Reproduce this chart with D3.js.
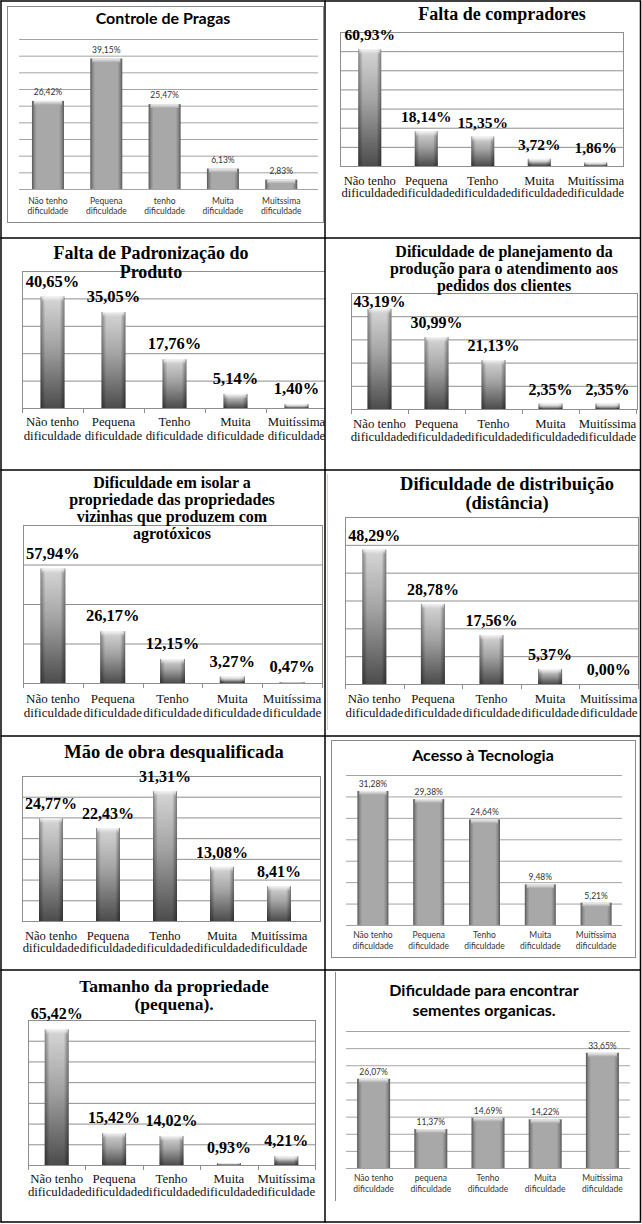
<!DOCTYPE html>
<html><head><meta charset="utf-8">
<script src="https://cdn.jsdelivr.net/npm/d3@7"></script>
<style>body{margin:0;background:#fff}svg{display:block}</style>
</head><body>
<svg id="c" width="642" height="1224"></svg>
<script>
// ---------- DATA ----------
const catsStd = [["Não tenho","dificuldade"],["Pequena","dificuldade"],["Tenho","dificuldade"],["Muita","dificuldade"],["Muitíssima","dificuldade"]];
const catsPragas = [["Não tenho","dificuldade"],["Pequena","dificuldade"],["tenho","dificuldade"],["Muita","dificuldade"],["Muitssima","dificuldade"]];
const catsSementes = [["Não tenho","dificuldade"],["pequena","dificuldade"],["Tenho","dificuldade"],["Muita","dificuldade"],["Muitíssima","dificuldade"]];

const titlePragas = ["Controle de Pragas"];
const titleCompradores = ["Falta de compradores"];
const titlePadronizacao = ["Falta de Padronização do","Produto"];
const titlePlanejamento = ["Dificuldade de planejamento da","produção para o atendimento aos","pedidos dos clientes"];
const titleIsolar = ["Dificuldade em isolar a","propriedade das propriedades","vizinhas que produzem com","agrotóxicos"];
const titleDistribuicao = ["Dificuldade de distribuição","(distância)"];
const titleMaoDeObra = ["Mão de obra desqualificada"];
const titleTecnologia = ["Acesso à Tecnologia"];
const titleTamanho = ["Tamanho da propriedade","(pequena)."];
const titleSementes = ["Dificuldade para encontrar","sementes organicas."];

const pragas = [26.42, 39.15, 25.47, 6.13, 2.83];
const compradores = [60.93, 18.14, 15.35, 3.72, 1.86];
const padronizacao = [40.65, 35.05, 17.76, 5.14, 1.40];
const planejamento = [43.19, 30.99, 21.13, 2.35, 2.35];
const isolar = [57.94, 26.17, 12.15, 3.27, 0.47];
const distribuicao = [48.29, 28.78, 17.56, 5.37, 0.00];
const maoDeObra = [24.77, 22.43, 31.31, 13.08, 8.41];
const tecnologia = [31.28, 29.38, 24.64, 9.48, 5.21];
const tamanho = [65.42, 15.42, 14.02, 0.93, 4.21];
const sementes = [26.07, 11.37, 14.69, 14.22, 33.65];

// axis maxima / gridline steps (percent)
const axisMax = {pragas:45, compradores:70, padronizacao:50, planejamento:50, isolar:80, distribuicao:60, maoDeObra:35, tecnologia:35, tamanho:70, sementes:40};
const axisStep = {pragas:5, compradores:10, padronizacao:10, planejamento:10, isolar:20, distribuicao:10, maoDeObra:5, tecnologia:5, tamanho:10, sementes:5};

// ---------- LAYOUT ----------
const panels = [
 {key:"pragas", title:titlePragas, values:pragas, cats:catsPragas, style:"sans",
  cell:[1,1,325,238], frame:[7,6,316,216], tSize:16, tX:163, tY:[24],
  plot:[19,318,39,189], band:[18.8,310.4], barW:32, vSize:8.5, vOff:6, cSize:8.5, cY:[204,214]},
 {key:"compradores", title:titleCompradores, values:compradores, cats:catsStd, style:"serif",
  cell:[325,1,640,238], tSize:18, tX:502, tY:[20],
  plot:[340,623,32,166], band:[341.5,624], barW:23, vSize:15.5, vOff:9, cSize:12.6, cY:[185,197], border:true, ticks:false},
 {key:"padronizacao", title:titlePadronizacao, values:padronizacao, cats:catsStd, style:"serif",
  cell:[1,238,325,470], tSize:18, tX:151, tY:[259,278],
  plot:[22,327,271,408], band:[22,327], barW:24, vSize:16.5, vOff:10, cSize:12.8, cY:[426,440], border:true, ticks:true},
 {key:"planejamento", title:titlePlanejamento, values:planejamento, cats:catsStd, style:"serif",
  cell:[325,238,640,470], tSize:16, tX:504, tY:[257,274,291],
  plot:[351,637,293,409], band:[351,636], barW:24, vSize:16, vOff:9, vMin:307, cSize:12.8, cY:[428,441], border:true, ticks:true},
 {key:"isolar", title:titleIsolar, values:isolar, cats:catsStd, style:"serif",
  cell:[1,470,325,736], tSize:16, tX:172, tY:[488,505,522,539],
  plot:[23,322,525,683], band:[23,322], barW:25, vSize:16.5, vOff:10, cSize:13, cY:[703,717], border:true, ticks:true},
 {key:"distribuicao", title:titleDistribuicao, values:distribuicao, cats:catsStd, style:"serif",
  cell:[325,470,640,736], tSize:18.5, tX:507, tY:[490,508.5], 
  plot:[345,638,517,684], band:[345,638], barW:24, vSize:16, vOff:9, cSize:12.8, cY:[703,717], border:true, ticks:true},
 {key:"maoDeObra", title:titleMaoDeObra, values:maoDeObra, cats:catsStd, style:"serif",
  cell:[1,736,325,970], tSize:18.5, tX:174, tY:[758],
  plot:[22,320,776,921], band:[22.5,307.5], barW:24, vSize:16, vOff:9, cSize:12.6, cY:[940,952], border:true, ticks:false},
 {key:"tecnologia", title:titleTecnologia, values:tecnologia, cats:catsStd, style:"sans",
  cell:[325,736,640,970], frame:[331,740,304,217], tSize:16, tX:483, tY:[761],
  plot:[346,622,775,925], band:[345,624], barW:31, vSize:8.5, vOff:4, cSize:8.5, cY:[938,949]},
 {key:"tamanho", title:titleTamanho, values:tamanho, cats:catsStd, style:"serif",
  cell:[1,970,325,1222], tSize:17.5, tX:174, tY:[992,1010],
  plot:[28,315,1020,1165], band:[28,315], barW:24, vSize:16, vOff:10, cSize:12.8, cY:[1183,1196], border:true, ticks:true},
 {key:"sementes", title:titleSementes, values:sementes, cats:catsSementes, style:"sans",
  cell:[325,970,640,1222], leftLine:[335,972,1201], tSize:16, tX:484, tY:[996,1016],
  plot:[346,630,1031,1168], band:[345,631], barW:33, vSize:8.5, vOff:4, cSize:8.5, cY:[1181,1192]}
];

const SERIF = "'Liberation Serif','Times New Roman',serif";
const SANS = "Lato,'Open Sans',sans-serif";
const fmt = d3.formatLocale({decimal:",", thousands:".", grouping:[3], currency:["",""]}).format(".2f");

const svg = d3.select("#c");
const defs = svg.append("defs");
function grad(id, x2, y2, stops){
  const g = defs.append("linearGradient").attr("id",id).attr("x1",0).attr("y1",0).attr("x2",x2).attr("y2",y2);
  stops.forEach(s=>g.append("stop").attr("offset",s[0]).attr("stop-color",s[1]).attr("stop-opacity",s[2]===undefined?1:s[2]));
}
grad("gSerif",0,1,[[0,"#d6d6d6"],[0.45,"#a2a2a2"],[1,"#4c4c4c"]]);
grad("gSerifEdge",1,0,[[0,"#000",0.38],[0.2,"#000",0],[0.8,"#000",0],[1,"#000",0.42]]);
grad("gSerifCap",0,1,[[0,"#f6f6f6"],[1,"#e0e0e0",0]]);
grad("gSans",1,0,[[0,"#555"],[0.07,"#888"],[0.15,"#a8a8a8"],[0.85,"#a8a8a8"],[0.93,"#888"],[1,"#555"]]);
grad("gSansCap",0,1,[[0,"#f0f0f0"],[1,"#a8a8a8"]]);

panels.forEach((p,pi)=>{
  const [cx0,cy0,cx1,cy1] = p.cell;
  defs.append("clipPath").attr("id","clip"+pi).append("rect")
    .attr("x",cx0).attr("y",cy0).attr("width",cx1-cx0).attr("height",cy1-cy0);
  const g = svg.append("g").attr("clip-path",`url(#clip${pi})`);
  const serif = p.style==="serif";
  const font = serif ? SERIF : SANS;
  const gridColor = serif ? "#8e8e8e" : "#a4a4a4";

  if(p.frame){
    g.append("rect").attr("x",p.frame[0]+0.5).attr("y",p.frame[1]+0.5)
     .attr("width",p.frame[2]).attr("height",p.frame[3])
     .attr("fill","none").attr("stroke","#8a8a8a").attr("stroke-width",1);
  }
  if(p.leftLine){
    g.append("line").attr("x1",p.leftLine[0]+0.5).attr("x2",p.leftLine[0]+0.5)
     .attr("y1",p.leftLine[1]).attr("y2",p.leftLine[2]).attr("stroke","#8a8a8a");
  }

  const [pl,pr,pt,pb] = p.plot;
  const keys = p.cats.map(c=>c.join(" "));
  const x = d3.scaleBand().domain(keys).range(p.band).padding(0);
  const y = d3.scaleLinear().domain([0, axisMax[p.key]]).range([pb, pt]);

  // gridlines
  const grid = d3.axisLeft(y).tickValues(d3.range(0, axisMax[p.key]+1e-9, axisStep[p.key]))
    .tickSize(-(pr-pl)).tickFormat("");
  g.append("g").attr("transform",`translate(${pl},0)`).call(grid)
    .call(a=>a.select(".domain").remove())
    .selectAll("line").attr("stroke",gridColor).attr("stroke-width",1);

  if(p.border){
    g.append("rect").attr("x",pl+0.5).attr("y",pt+0.5).attr("width",pr-pl).attr("height",pb-pt)
      .attr("fill","none").attr("stroke",gridColor);
  }
  if(p.ticks){
    const bounds = keys.map(k=>x(k)).concat([x(keys[keys.length-1])+x.bandwidth()]);
    g.selectAll("line.xt").data(bounds).join("line").attr("class","xt")
      .attr("x1",d=>Math.round(d)+0.5).attr("x2",d=>Math.round(d)+0.5)
      .attr("y1",pb).attr("y2",pb+5).attr("stroke",gridColor);
  }

  // bars
  const bx = (i)=>x(keys[i]) + x.bandwidth()/2 - p.barW/2;
  const bars = g.append("g");
  p.values.forEach((v,i)=>{
    const h = y(0)-y(v);
    if(h<=0) return;
    if(serif){
      bars.append("rect").attr("x",bx(i)).attr("y",y(v)).attr("width",p.barW).attr("height",h).attr("fill","url(#gSerif)");
      bars.append("rect").attr("x",bx(i)).attr("y",y(v)).attr("width",p.barW).attr("height",h).attr("fill","url(#gSerifEdge)");
      bars.append("rect").attr("x",bx(i)+1).attr("y",y(v)).attr("width",p.barW-2).attr("height",Math.min(5,h)).attr("fill","url(#gSerifCap)");
    } else {
      bars.append("rect").attr("x",bx(i)).attr("y",y(v)).attr("width",p.barW).attr("height",h).attr("fill","url(#gSans)");
      bars.append("rect").attr("x",bx(i)+2).attr("y",y(v)).attr("width",p.barW-4).attr("height",Math.min(4,h)).attr("fill","url(#gSansCap)");
    }
  });

  // value labels
  g.selectAll("text.val").data(p.values).join("text").attr("class","val")
    .attr("x",(d,i)=>x(keys[i])+x.bandwidth()/2)
    .attr("y",d=>{ let yy = y(d)-p.vOff; if(p.vMin!==undefined) yy = Math.max(yy,p.vMin); return yy; })
    .attr("text-anchor","middle").attr("font-family",font)
    .attr("font-size",p.vSize).attr("font-weight",serif?"bold":"normal")
    .attr("fill",serif?"#000":"#333")
    .text(d=>fmt(d)+"%");

  // category labels
  const cl = g.selectAll("text.cat").data(p.cats).join("text").attr("class","cat")
    .attr("text-anchor","middle").attr("font-family",font).attr("font-size",p.cSize)
    .attr("fill",serif?"#111":"#333");
  cl.each(function(c,i){
    const t = d3.select(this);
    c.forEach((line,li)=>{
      t.append("tspan").attr("x",x(keys[i])+x.bandwidth()/2).attr("y",p.cY[li]).text(line);
    });
  });

  // title
  const tt = g.append("text").attr("text-anchor","middle").attr("font-family",font)
    .attr("font-size",p.tSize).attr("font-weight","bold").attr("fill","#000");
  p.title.forEach((line,li)=>tt.append("tspan").attr("x",p.tX).attr("y",p.tY[li]).text(line));
});

// faint line on the distribution panel
svg.append("line").attr("x1",327.5).attr("x2",327.5).attr("y1",474).attr("y2",730).attr("stroke","#f3c6a5");

// table borders
const vLines = [1, 325, 640.5];
const hLines = [1, 238, 470, 736, 970, 1222];
svg.append("g").selectAll("line.v").data(vLines).join("line")
  .attr("x1",d=>d).attr("x2",d=>d).attr("y1",0.5).attr("y2",1222.5).attr("stroke","#000").attr("stroke-width",1.5);
svg.append("g").selectAll("line.h").data(hLines).join("line")
  .attr("x1",0.5).attr("x2",641).attr("y1",d=>d).attr("y2",d=>d).attr("stroke","#000").attr("stroke-width",1.5);
</script>
</body></html>
